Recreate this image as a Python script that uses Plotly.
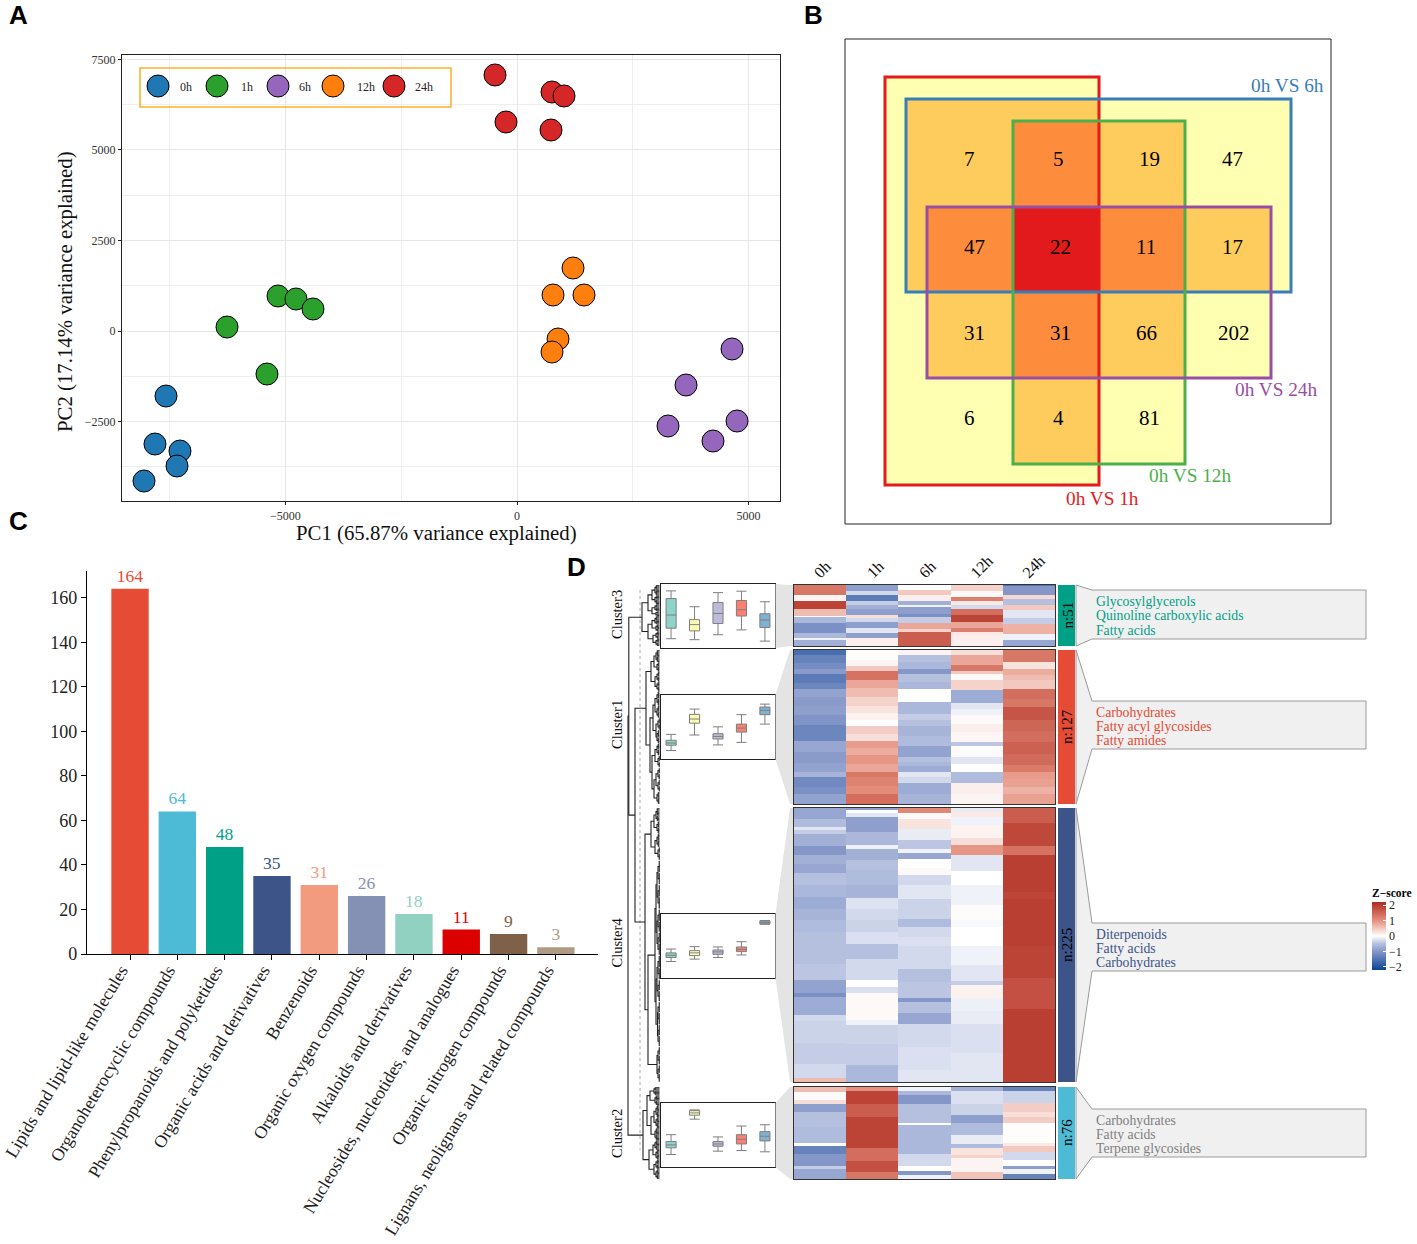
import numpy as np
import plotly.graph_objects as go

W, H = 1417, 1244
SERIF = "Liberation Serif"
SANS = "Liberation Sans"

# ---------- Panel A data ----------
time_labels = ["0h", "1h", "6h", "12h", "24h"]
pca_colors = ["#1f77b4", "#2ca02c", "#9467bd", "#ff7f0e", "#d62728"]
pc1_0h = [-7581, -7819, -7279, -7343, -8056]
pc2_0h = [-1796, -3122, -3315, -3729, -4144]
pc1_1h = [-6263, -5162, -4773, -4406, -5400]
pc2_1h = [110, 967, 884, 608, -1188]
pc1_6h = [4644, 3650, 4752, 3261, 4233]
pc2_6h = [-497, -1492, -2486, -2624, -3039]
pc1_12h = [1210, 778, 1447, 886, 756]
pc2_12h = [1740, 994, 994, -221, -580]
pc1_24h = [-475, 756, 1015, -238, 734]
pc2_24h = [7072, 6602, 6492, 5773, 5552]

# ---------- Panel B data ----------
venn_names = ["0h VS 1h", "0h VS 6h", "0h VS 12h", "0h VS 24h"]
venn_colors = ["#E41A1C", "#377EB8", "#4DAF4A", "#984EA3"]
venn_counts = [7, 5, 19, 47, 47, 22, 11, 17, 31, 31, 66, 202, 6, 4, 81]
overlap_colors = ["#FFFFB2", "#FECC5C", "#FD8D3C", "#E31A1C"]

# ---------- Panel C data ----------
class_names = ["Lipids and lipid-like molecules", "Organoheterocyclic compounds",
               "Phenylpropanoids and polyketides", "Organic acids and derivatives",
               "Benzenoids", "Organic oxygen compounds", "Alkaloids and derivatives",
               "Nucleosides, nucleotides, and analogues", "Organic nitrogen compounds",
               "Lignans, neolignans and related compounds"]
class_counts = [164, 64, 48, 35, 31, 26, 18, 11, 9, 3]
class_colors = ["#E64B35", "#4DBBD5", "#00A087", "#3C5488", "#F39B7F",
                "#8491B4", "#91D1C2", "#DC0000", "#7E6148", "#B09C85"]

# ---------- Panel D data: (row count, z-score) runs per time column ----------
c3_runs = [
    [(8,1.3),(5,0.1),(7,1.9),(6,0.6),(1,0.0),(5,-0.6),(8,-1.1),(4,-0.6),(2,-0.1),(5,-0.7)],
    [(5,-0.9),(3,-0.3),(5,-1.4),(4,-0.4),(3,-0.7),(5,-0.9),(3,0.3),(3,-0.3),(5,-0.9),(4,-0.2),(4,-0.9),(7,0.15)],
    [(4,0.0),(4,0.5),(5,0.15),(4,-0.7),(1,-0.1),(6,-0.9),(3,-1.1),(5,-0.4),(5,0.8),(2,0.4),(12,1.6)],
    [(5,0.4),(5,0.05),(3,1.2),(4,0.2),(3,-0.3),(5,1.4),(6,1.9),(5,0.8),(3,1.2),(3,0.2),(9,0.15)],
    [(1,-1.5),(7,-1.0),(4,0.35),(5,-0.5),(4,0.5),(7,-0.2),(5,-0.4),(8,0.7),(5,-0.1),(5,-0.8)],
]
c1_runs = [
    [(4,-1.6),(7,-1.3),(5,-1.15),(4,-0.95),(7,-1.4),(5,-1.25),(7,-0.85),(7,-0.95),(8,-0.9),(8,-1.05),(13,-1.25),(9,-0.8),(9,-0.95),(8,-0.85),(4,-0.65),(8,-1.2),(6,-1.1),(8,-0.85)],
    [(1,0.0),(7,0.02),(5,0.1),(4,0.5),(8,1.35),(6,0.8),(8,0.6),(7,0.4),(6,0.25),(6,0.12),(5,0.0),(6,0.45),(6,0.3),(6,0.9),(6,0.75),(7,0.95),(7,0.8),(4,1.3),(7,1.15),(7,1.05),(8,1.4)],
    [(4,0.1),(6,-0.5),(6,-0.6),(4,-1.0),(6,-0.5),(6,-0.6),(11,0.0),(10,-0.6),(5,-0.4),(5,-0.5),(8,-0.65),(8,-0.55),(9,-0.85),(4,-0.5),(4,-0.6),(5,-0.75),(4,-0.2),(5,-0.3),(9,-0.75),(8,-0.65)],
    [(4,0.3),(8,0.8),(5,1.3),(3,0.5),(5,0.05),(8,0.4),(11,-0.75),(5,-0.2),(5,-0.1),(7,0.05),(7,0.15),(8,0.08),(3,-0.45),(4,0.02),(5,-0.03),(6,-0.2),(7,0.0),(9,-0.55),(9,0.15),(8,0.1)],
    [(10,1.3),(6,0.25),(5,0.75),(4,0.6),(7,0.5),(8,1.4),(7,1.3),(11,1.7),(9,1.5),(9,1.4),(10,1.55),(9,1.45),(6,1.25),(5,0.9),(7,0.85),(6,0.7),(8,0.85)],
]
c4_runs = [
    [(9,-0.8),(7,-0.55),(2,-0.2),(3,-0.4),(10,-0.7),(8,-1.0),(7,-0.7),(7,-0.8),(10,-0.5),(10,-0.6),(10,-0.75),(9,-0.65),(10,-0.55),(10,-0.5),
     (16,-0.5),(13,-0.45),(11,-0.85),(3,-1.1),(15,-0.75),(5,-0.3),(18,-0.35),(17,-0.4),(12,-0.3),(3,0.6)],
    [(2,-0.9),(2,0.0),(3,-0.2),(13,-0.9),(10,-0.6),(4,-0.1),(9,-0.7),(8,-0.5),(12,-0.55),(11,-0.65),(9,-0.22),(9,-0.3),(10,-0.35),(10,-0.25),
     (12,-0.5),(17,-0.3),(6,0.0),(5,-0.25),(22,0.05),(4,-0.1),(16,-0.35),(17,-0.4),(14,-0.6)],
    [(4,1.1),(5,0.05),(8,0.25),(9,-0.15),(8,-0.45),(3,-0.1),(5,-0.8),(7,0.0),(6,0.05),(8,-0.3),(12,-0.2),(16,-0.35),(7,-0.55),(8,-0.3),(7,-0.25),
     (19,-0.3),(11,-0.5),(13,-0.45),(3,-1.0),(9,-0.5),(9,-0.8),(19,-0.3),(19,-0.25),(10,-0.2)],
    [(3,-0.15),(4,0.2),(7,-0.1),(11,0.12),(5,0.3),(9,0.95),(13,-0.2),(11,0.0),(17,-0.1),(12,0.03),(6,-0.05),(15,0.0),
     (16,-0.1),(13,-0.2),(3,-0.4),(11,0.12),(11,-0.12),(10,-0.15),(24,-0.25),(24,-0.2)],
    [(12,1.6),(19,1.85),(8,1.35),(30,1.95),(6,1.88),(38,1.95),(27,1.9),(25,1.75),(60,1.95)],
]
c2_runs = [
    [(4,0.6),(7,0.05),(3,0.3),(7,-0.9),(12,-0.5),(13,-0.55),(3,0.0),(6,-1.3),(10,-1.0),(3,-0.4),(8,-0.8)],
    [(3,1.0),(11,1.9),(11,1.6),(25,1.9),(11,1.4),(9,1.75),(6,1.3)],
    [(3,-0.1),(4,-0.6),(7,-1.0),(6,-0.5),(10,-0.5),(1,0.0),(8,-0.6),(11,-0.6),(5,-0.6),(10,-0.3),(4,0.0),(4,-1.0),(3,-0.1)],
    [(3,-0.7),(11,-0.25),(9,-0.35),(7,-0.9),(10,-0.55),(7,-0.15),(3,-0.55),(6,0.25),(3,0.4),(11,0.1),(6,0.55)],
    [(3,-1.3),(10,-0.35),(8,0.45),(4,0.3),(5,0.45),(16,0.02),(3,0.2),(5,0.5),(6,-0.3),(5,0.0),(3,-0.9),(4,-0.1),(4,-1.3)],
]
cluster_names = ["Cluster3", "Cluster1", "Cluster4", "Cluster2"]
cluster_sizes = [51, 127, 225, 76]
cluster_colors = ["#00A087", "#E64B35", "#3C5488", "#4DBBD5"]
cluster_text_colors = ["#00A087", "#E64B35", "#3C5488", "#7F7F7F"]
cluster_terms = [["Glycosylglycerols", "Quinoline carboxylic acids", "Fatty acids"],
                 ["Carbohydrates", "Fatty acyl glycosides", "Fatty amides"],
                 ["Diterpenoids", "Fatty acids", "Carbohydrates"],
                 ["Carbohydrates", "Fatty acids", "Terpene glycosides"]]
box_colors = ["#8DD3C7", "#FFFFB3", "#BEBADA", "#FB8072", "#80B1D3"]
# box statistics per time column: lower fence, q1, median, q3, upper fence
c3_box = [[-1.42,-0.76,0.06,1.09,1.57],[-1.48,-0.93,-0.54,-0.23,0.58],[-1.17,-0.47,0.16,0.84,1.46],
          [-0.87,0.0,0.39,0.97,1.55],[-1.57,-0.72,-0.25,0.14,0.89]]
c1_box = [[-1.47,-1.14,-1.0,-0.83,-0.46],[-0.50,0.24,0.50,0.79,1.12],[-1.12,-0.75,-0.59,-0.42,0.01],
          [-0.96,-0.32,-0.07,0.18,0.77],[0.18,0.77,1.04,1.25,1.43]]
c4_box = [[-0.97,-0.72,-0.58,-0.43,-0.19],[-0.82,-0.60,-0.43,-0.29,-0.04],[-0.72,-0.52,-0.37,-0.25,-0.06],
          [-0.56,-0.35,-0.21,-0.06,0.27],[1.36,1.38,1.48,1.57,1.59]]
c2_box = [[-1.22,-0.80,-0.62,-0.41,0.02],[0.99,1.24,1.38,1.52,1.57],[-1.01,-0.70,-0.56,-0.41,-0.12],
          [-0.97,-0.56,-0.27,0.02,0.56],[-1.05,-0.37,-0.08,0.21,0.64]]
# dendrogram: (merge position, child, child); an int child is a leaf group of that many rows
tree_c3 = (642,
           (648, (652, (655, 4, 5), (655, 3, 4)), (652, (655, 3, 3), (656, 2, 2))),
           (648, (652, (655, 4, 3), (656, 3, 3)), (653, (656, 3, 3), (656, 3, 3))))
tree_c1 = (646,
           (651, (654, (656, 5, 5), (657, 4, 4)), (655, (657, 4, 4), (657, 4, 4))),
           (650, (653, (655, (657, 6, 6), (657, 5, 5)), (656, (658, 5, 5), (657, 6, 5))),
            (652, (655, (657, 5, 5), (658, 5, 5)), (654, (656, (658, 5, 5), (658, 5, 5)), (657, 5, 5)))))
tree_c4 = (645,
           (651, (654, (656, 6, 5), (657, 5, 5)), (655, (657, 6, 5), (658, 5, 6))),
           (648, (655, (656, (657, (658, 10, 10), (658, 10, 10)), (657, (658, 10, 9), (658, 9, 10))),
                  (656, (657, (658, 10, 10), (658, 9, 9)), (657.5, (658, 9, 10), (658, 9, 9)))),
            (657, (658, 7, 8), (658, 7, 7))))
tree_c2 = (643,
           (647, (650, (654, 3, 4), (655, 4, 4)), (651, (654, (656, 5, 5), (656, 4, 5)), (655, 5, 5))),
           (649, (653, (655, 4, 4), (656, 4, 4)), (654, (656, 4, 4), (656, 4, 4))))

# ---------- layout helpers ----------
def dom(x0, x1, y0, y1):
    return dict(domain=[x0 / W, x1 / W]), dict(domain=[1 - y1 / H, 1 - y0 / H])

def ann(px, py, text, size, color="black", angle=0, xa="center", family=SERIF, bold=False):
    return dict(x=px / W, y=1 - py / H, xref="paper", yref="paper", text=f"<b>{text}</b>" if bold else text,
                showarrow=False, textangle=angle, xanchor=xa, yanchor="middle",
                font=dict(size=size, color=color, family=family))

fig = go.Figure()
annotations, shapes = [], []

# ---------- Panel A ----------
pc1 = [pc1_0h, pc1_1h, pc1_6h, pc1_12h, pc1_24h]
pc2 = [pc2_0h, pc2_1h, pc2_6h, pc2_12h, pc2_24h]
for name, c, xs, ys in zip(time_labels, pca_colors, pc1, pc2):
    fig.add_trace(go.Scatter(x=xs, y=ys, mode="markers", name=name, xaxis="x", yaxis="y",
                             marker=dict(size=22, color=c, line=dict(color="black", width=1))))
xa, ya = dom(122, 780, 55, 501)
axis_a = dict(showline=True, mirror=True, linecolor="#222", linewidth=1.3, ticks="outside", ticklen=3,
              tickcolor="#222", tickfont=dict(size=12, family=SERIF, color="#333"), zeroline=False,
              showgrid=True, gridcolor="#e6e6e6", gridwidth=1, automargin=False)
layout = dict(
    xaxis=dict(**xa, **axis_a, range=[-8531, 5680], tickvals=[-5000, 0, 5000],
               minor=dict(tickvals=[-7500, -2500, 2500], showgrid=True, gridcolor="#eeeeee", ticks="")),
    yaxis=dict(**ya, **axis_a, range=[-4696, 7624], tickvals=[-2500, 0, 2500, 5000, 7500],
               minor=dict(tickvals=[-3750, -1250, 1250, 3750, 6250], showgrid=True, gridcolor="#eeeeee", ticks="")),
)
annotations.append(ann(436, 533, "PC1 (65.87% variance explained)", 20.8, "#111"))
annotations.append(ann(65, 292, "PC2 (17.14% variance explained)", 20.8, "#111", -90))

# ---------- Panel C ----------
fig.add_trace(go.Bar(x=class_names, y=class_counts, xaxis="x2", yaxis="y2", width=0.79,
                     marker=dict(color=class_colors, line=dict(width=0)),
                     text=class_counts, textposition="outside", cliponaxis=False,
                     textfont=dict(size=17.5, family=SERIF, color=class_colors)))
xa, ya = dom(87, 598, 571, 954)
layout["xaxis2"] = dict(**xa, anchor="y2", type="category", range=[-0.909, 9.89], tickangle=-59, showline=True,
                        linecolor="black", linewidth=1.4, ticks="outside", ticklen=5, tickcolor="black",
                        ticklabelshift=-9, ticklabelstandoff=-7,
                        tickfont=dict(size=17.7, family=SERIF, color="#222"), showgrid=False, zeroline=False,
                        automargin=False)
layout["yaxis2"] = dict(**ya, anchor="x2", range=[0, 172], tickvals=list(range(0, 161, 20)), showline=True,
                        linecolor="black", linewidth=1.4, ticks="outside", ticklen=5, tickcolor="black",
                        tickfont=dict(size=18, family=SERIF, color="#222"), showgrid=False, zeroline=False,
                        automargin=False)

# ---------- Panel D: heatmaps ----------
heat_ranges = [(585, 646), (650, 804), (808, 1082), (1087, 1179)]
all_runs = [c3_runs, c1_runs, c4_runs, c2_runs]
for i, (runs, n, (y0, y1)) in enumerate(zip(all_runs, cluster_sizes, heat_ranges)):
    z = np.column_stack([np.concatenate([np.full(k, v) for k, v in col]) for col in runs])
    k = i + 3
    fig.add_trace(go.Heatmap(z=z, x=time_labels, y=np.arange(n) + 0.5, coloraxis="coloraxis",
                             xaxis=f"x{k}", yaxis=f"y{k}", zsmooth=False, hoverongaps=False))
    xa, ya = dom(794, 1055, y0, y1)
    layout[f"xaxis{k}"] = dict(**xa, anchor=f"y{k}", showticklabels=False, ticks="", showline=True, mirror=True,
                               linecolor="#333", linewidth=1, type="category", showgrid=False, zeroline=False)
    layout[f"yaxis{k}"] = dict(**ya, anchor=f"x{k}", range=[n, 0], showticklabels=False, ticks="", showline=True,
                               mirror=True, linecolor="#333", linewidth=1, showgrid=False, zeroline=False)

# ---------- Panel D: box plots ----------
box_ranges = [(584, 648), (695, 759), (914, 978), (1103, 1167)]
for i, (stats, (y0, y1)) in enumerate(zip([c3_box, c1_box, c4_box, c2_box], box_ranges)):
    k = i + 7
    for j, (s, c) in enumerate(zip(stats, box_colors)):
        fig.add_trace(go.Box(x=[j], lowerfence=[s[0]], q1=[s[1]], median=[s[2]], q3=[s[3]], upperfence=[s[4]],
                             xaxis=f"x{k}", yaxis=f"y{k}", width=0.43, whiskerwidth=1, boxpoints=False,
                             fillcolor=c, name=time_labels[j], line=dict(color="#7f7f7f", width=1)))
    xa, ya = dom(661, 775, y0, y1)
    layout[f"xaxis{k}"] = dict(**xa, anchor=f"y{k}", range=[-0.43, 4.43], showticklabels=False, ticks="",
                               showline=True, mirror=True, linecolor="#222", linewidth=1.2, showgrid=False,
                               zeroline=False)
    layout[f"yaxis{k}"] = dict(**ya, anchor=f"x{k}", range=[-2, 2], showticklabels=False, ticks="",
                               showline=True, mirror=True, linecolor="#222", linewidth=1.2, showgrid=False,
                               zeroline=False)

# ---------- page-wide overlay axes ----------
layout["xaxis11"] = dict(domain=[0, 1], range=[0, W], visible=False, anchor="y11", fixedrange=True)
layout["yaxis11"] = dict(domain=[0, 1], range=[H, 0], visible=False, anchor="x11", fixedrange=True)

# legend of panel A
legend_x = [158, 217, 278, 333, 394]
legend_text_x = [186, 247, 305, 366, 424]
fig.add_trace(go.Scatter(x=legend_x, y=[86] * 5, mode="markers", xaxis="x11", yaxis="y11", name="legend",
                         marker=dict(size=22, color=pca_colors, line=dict(color="black", width=1))))
for tx, t in zip(legend_text_x, time_labels):
    annotations.append(ann(tx, 87, t, 12, "#222"))
shapes.append(dict(type="rect", xref="x11", yref="y11", x0=140, x1=451, y0=68, y1=107,
                   line=dict(color="#FDB32B", width=1.6), layer="above"))

# dendrogram built from the merge trees
seg_x, seg_y, leaf_x, leaf_y = [], [], [], []
def draw(node, cur, y0, step):
    """returns (x, y) of node; cur is a one-item list holding the running row index"""
    xp, a, b = node
    pts = []
    for ch in (a, b):
        if isinstance(ch, int):
            ys = [y0 + (cur[0] + r + 0.5) * step for r in range(ch)]
            cur[0] += ch
            for yy in ys:
                leaf_x.extend([xp + 1.2, 659.5, None])
                leaf_y.extend([yy, yy, None])
            mid = (ys[0] + ys[-1]) / 2
            seg_x.extend([xp + 1.2, xp + 1.2, None])
            seg_y.extend([ys[0], ys[-1], None])
            pts.append((xp + 1.2, mid))
        else:
            pts.append(draw(ch, cur, y0, step))
    seg_x.extend([pts[0][0], xp, xp, pts[1][0], None])
    seg_y.extend([pts[0][1], pts[0][1], pts[1][1], pts[1][1], None])
    return xp, (pts[0][1] + pts[1][1]) / 2

def join(xp, p, q):
    seg_x.extend([p[0], xp, xp, q[0], None])
    seg_y.extend([p[1], p[1], q[1], q[1], None])
    return xp, (p[1] + q[1]) / 2

tops = [draw(t, [0], y0, (y1 - y0) / n) for t, n, (y0, y1) in
        zip([tree_c3, tree_c1, tree_c4, tree_c2], cluster_sizes, heat_ranges)]
n_14 = join(635, tops[1], tops[2])
n_314 = join(628.8, tops[0], n_14)
join(628, n_314, tops[3])
fig.add_trace(go.Scatter(x=leaf_x, y=leaf_y, mode="lines", xaxis="x11", yaxis="y11", name="leaves",
                         line=dict(color="#000", width=0.8)))
fig.add_trace(go.Scatter(x=seg_x, y=seg_y, mode="lines", xaxis="x11", yaxis="y11", name="dendrogram",
                         line=dict(color="#222", width=1.1)))
shapes.append(dict(type="line", xref="x11", yref="y11", x0=640, x1=640, y0=590, y1=1150,
                   line=dict(color="#aaa", width=1, dash="dot"), layer="below"))

# panel B: cell fills from overlaps of the four rectangles
venn_rects = [(885, 77, 1099, 485), (906, 99, 1291, 292), (1013, 121, 1185, 464), (927, 207, 1271, 378)]
xs = sorted({r[0] for r in venn_rects} | {r[2] for r in venn_rects})
ys = sorted({r[1] for r in venn_rects} | {r[3] for r in venn_rects})
shapes.append(dict(type="rect", xref="x11", yref="y11", x0=845, x1=1331, y0=39, y1=524,
                   line=dict(color="#222", width=1), layer="below"))
for xl, xr in zip(xs[:-1], xs[1:]):
    for yt, yb in zip(ys[:-1], ys[1:]):
        cnt = sum(r[0] <= xl and xr <= r[2] and r[1] <= yt and yb <= r[3] for r in venn_rects)
        if cnt:
            shapes.append(dict(type="rect", xref="x11", yref="y11", x0=xl, x1=xr, y0=yt, y1=yb,
                               fillcolor=overlap_colors[cnt - 1], line=dict(width=0), layer="below"))
for r, c in zip(venn_rects, venn_colors):
    shapes.append(dict(type="rect", xref="x11", yref="y11", x0=r[0], y0=r[1], x1=r[2], y1=r[3],
                       line=dict(color=c, width=3), layer="above"))
venn_pos = [(969, 160), (1058, 160), (1149, 160), (1232, 160), (974, 247), (1060, 247), (1146, 247), (1232, 247),
            (974, 333), (1060, 333), (1146, 333), (1234, 333), (969, 419), (1058, 419), (1149, 419)]
for (px, py), v in zip(venn_pos, venn_counts):
    annotations.append(ann(px, py - 0.5, str(v), 21))
for (px, py), t, c in zip([(1102, 498), (1287, 86), (1190, 476), (1276, 390)], venn_names, venn_colors):
    annotations.append(ann(px, py, t, 19.3, c))

# panel D furniture
term_boxes = [(590, 639), (701, 749), (923, 971), (1109, 1157)]
term_first_y = [601.5, 712, 934, 1120]
label_y = [615, 725, 942.5, 1134]
for i, ((y0, y1), (b0, b1), (t0, t1)) in enumerate(zip(heat_ranges, box_ranges, term_boxes)):
    shapes.append(dict(type="path", xref="x11", yref="y11", layer="below", fillcolor="#E4E4E4", line=dict(width=0),
                       path=f"M 775.5 {b0} L 790 {y0} L 793 {y0} L 793 {y1} L 790 {y1} L 775.5 {b1} Z"))
    shapes.append(dict(type="rect", xref="x11", yref="y11", x0=1058, x1=1075, y0=y0, y1=y1,
                       fillcolor=cluster_colors[i], line=dict(width=0), layer="below"))
    shapes.append(dict(type="path", xref="x11", yref="y11", layer="below", fillcolor="#F0F0F0",
                       line=dict(color="#9a9a9a", width=1),
                       path=f"M 1076 {y0} L 1092 {t0} L 1366 {t0} L 1366 {t1} L 1092 {t1} L 1076 {y1} Z"))
    annotations.append(ann(1067, (y0 + y1) / 2, f"n:{cluster_sizes[i]}", 15, "black", -90))
    annotations.append(ann(617, label_y[i], cluster_names[i], 14.5, "#111", -90))
    for l, term in enumerate(cluster_terms[i]):
        annotations.append(ann(1094, term_first_y[i] + l * 14.3, term, 13.7, cluster_text_colors[i], xa="left"))
for px, py, t in zip([822, 875, 927, 982, 1034], [569, 569, 569, 567, 567], time_labels):
    annotations.append(ann(px, py, t, 16, "#111", -45))

# panel letters
for px, py, t in [(18, 15, "A"), (813, 15, "B"), (18, 521, "C"), (576, 567, "D")]:
    annotations.append(ann(px, py, t, 26, "black", family=SANS, bold=True))

layout["coloraxis"] = dict(
    cmin=-2.2, cmax=2.2,
    colorscale=[[0, "#0b4595"], [1.2 / 4.4, "#8597c9"], [1.7 / 4.4, "#b5c0df"], [0.5, "#ffffff"],
                [3.2 / 4.4, "#e5907e"], [1, "#ae2a1e"]],
    colorbar=dict(x=1372 / W, xanchor="left", y=1 - 927.5 / H, yanchor="middle", len=85, lenmode="pixels", thickness=14,
                  thicknessmode="pixels", xpad=0, ypad=0, outlinewidth=0, ticks="inside", ticklen=3, tickcolor="white",
                  tickvals=[-2, -1, 0, 1, 2], tickfont=dict(size=12, family=SERIF, color="#222"),
                  title=dict(text="<b>Z−score</b>", side="top", font=dict(size=11.5, family=SERIF, color="black"))))

fig.update_layout(width=W, height=H, margin=dict(l=0, r=0, t=0, b=0), autosize=False, showlegend=False,
                  paper_bgcolor="white", plot_bgcolor="rgba(0,0,0,0)", font=dict(family=SERIF, color="#222"),
                  annotations=annotations, shapes=shapes, **layout)
fig.write_html("out.html", config={"displayModeBar": False}, post_script="document.body.style.margin='0';")
